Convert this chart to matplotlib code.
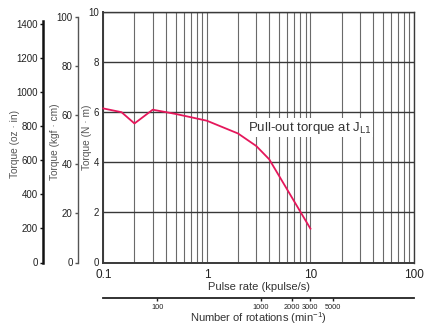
import matplotlib
matplotlib.use("Agg")
import matplotlib.pyplot as plt
from matplotlib.ticker import LogLocator, NullFormatter

# ---------------- data ----------------
pulse_rate = [0.1, 0.15, 0.2, 0.3, 0.5, 0.7, 1.0, 2.0, 3.0, 4.0, 10.0]   # kpulse/s
torque_nm = [6.15, 6.0, 5.55, 6.1, 5.93, 5.8, 5.66, 5.15, 4.65, 4.12, 1.35]  # N·m

x_ticks = [0.1, 1, 10, 100]
x_tick_labels = ["0.1", "1", "10", "100"]
nm_ticks = [0, 2, 4, 6, 8, 10]
kgf_ticks = [0, 20, 40, 60, 80, 100]
oz_ticks = [0, 200, 400, 600, 800, 1000, 1200, 1400]
rpm_ticks = [100, 1000, 2000, 3000, 5000]
rpm_tick_labels = ["100", "1000", "2000", "3000", "5000"]

KGF_PER_NM = 10.197
OZ_PER_NM = 147.0       # as drawn on the chart's scale
RPM_PER_KPPS = 300.0

# ---------------- figure ----------------
W_PX, H_PX = 438, 325
fig = plt.figure(figsize=(W_PX / 100, H_PX / 100), dpi=100)
fig.patch.set_facecolor("white")

regular = ["Liberation Sans", "DejaVu Sans"]

def fx(px):
    return px / W_PX

def fy(py):
    return 1 - py / H_PX

left_px, right_px, top_px, bot_px = 103.3, 414.0, 12.0, 262.5
L, B = fx(left_px), fy(bot_px)
Wd, Ht = fx(right_px) - fx(left_px), fy(top_px) - fy(bot_px)

ax = fig.add_axes([L, B, Wd, Ht])
ax.set_xscale("log")
ax.set_xlim(0.1, 100)
ax.set_ylim(0, 10)
ax.set_xticks(x_ticks, labels=x_tick_labels)
ax.xaxis.set_minor_locator(LogLocator(base=10, subs=range(2, 10)))
ax.xaxis.set_minor_formatter(NullFormatter())
ax.set_yticks(nm_ticks)
ax.grid(axis="x", which="both", color="#6a6a6a", lw=0.8, zorder=1)
ax.grid(axis="y", which="major", color="#383838", lw=1.0, zorder=1)
ax.tick_params(axis="both", which="both", length=0)
ax.tick_params(axis="x", pad=4.5, labelsize=8.5, colors="#222222")
ax.tick_params(axis="y", pad=3, labelsize=7, colors="#222222")
for lab in ax.get_xticklabels() + ax.get_yticklabels():
    lab.set_fontfamily(regular)
for s in ax.spines.values():
    s.set_color("#3a3a3a")
    s.set_linewidth(1.0)
ax.spines["left"].set_linewidth(1.4)
ax.spines["bottom"].set_linewidth(1.4)

ax.plot(pulse_rate, torque_nm, color="#E5175B", lw=1.3, zorder=3, clip_on=False)

ax.text(2.5, 5.38, r"Pull-out torque at J$_{\rm L1}$", fontsize=9.5, color="#333333",
        family=regular, ha="left", va="center", zorder=4,
        bbox=dict(facecolor="white", edgecolor="none", pad=1.0))

# kgf·cm axis
axk = fig.add_axes([fx(77.7), B, 0.0001, Ht])
axk.set_ylim(0, 10 * KGF_PER_NM)
axk.set_yticks(kgf_ticks)
axk.set_xticks([])
for k in ["top", "right", "bottom"]:
    axk.spines[k].set_visible(False)
axk.spines["left"].set_bounds(0, 100)
axk.spines["left"].set_color("#555555")
axk.spines["left"].set_linewidth(1.0)
axk.tick_params(axis="y", direction="out", length=2.5, width=1.0, color="#555555",
                pad=1.2, labelsize=7, labelcolor="#222222")
for lab in axk.get_yticklabels():
    lab.set_fontfamily(regular)
axk.patch.set_visible(False)

# oz·in axis
axo = fig.add_axes([fx(43.3), B, 0.0001, Ht])
axo.set_ylim(0, 10 * OZ_PER_NM)
axo.set_yticks(oz_ticks)
axo.set_xticks([])
for k in ["top", "right", "bottom"]:
    axo.spines[k].set_visible(False)
axo.spines["left"].set_bounds(0, 1420)
axo.spines["left"].set_color("#111111")
axo.spines["left"].set_linewidth(1.8)
axo.tick_params(axis="y", direction="out", length=2.5, width=1.0, color="#111111",
                pad=1.2, labelsize=7, labelcolor="#222222")
for lab in axo.get_yticklabels():
    lab.set_fontfamily(regular)
axo.patch.set_visible(False)

# rotations axis
axr = fig.add_axes([L, fy(297.7), Wd, 0.0001])
axr.set_xscale("log")
axr.set_xlim(0.1 * RPM_PER_KPPS, 100 * RPM_PER_KPPS)
axr.set_xticks(rpm_ticks, labels=rpm_tick_labels)
axr.xaxis.set_minor_locator(plt.NullLocator())
axr.set_yticks([])
for k in ["top", "right", "left"]:
    axr.spines[k].set_visible(False)
axr.spines["bottom"].set_color("#222222")
axr.spines["bottom"].set_linewidth(1.3)
axr.tick_params(axis="x", direction="out", length=2.0, width=1.0, color="#222222",
                pad=2.5, labelsize=5.3, labelcolor="#222222")
for lab in axr.get_xticklabels():
    lab.set_fontfamily(regular)
axr.patch.set_visible(False)

# axis titles
lab_kw = dict(rotation=90, ha="center", va="center", fontsize=7.3, color="#555555", family=regular)
fig.text(fx(87), fy(137), "Torque (N · m)", **lab_kw)
fig.text(fx(55), fy(142), "Torque (kgf · cm)", **lab_kw)
fig.text(fx(15), fy(144), "Torque (oz · in)", **lab_kw)

fig.text(fx(258.5), fy(287), "Pulse rate (kpulse/s)", ha="center", va="center",
         fontsize=8, color="#333333", family=regular)
fig.text(fx(258.5), fy(318), r"Number of rotations (min$^{\mathregular{-1}}$)", ha="center",
         va="center", fontsize=8, color="#333333", family=regular)

fig.savefig("out.png", dpi=100, facecolor="white")
